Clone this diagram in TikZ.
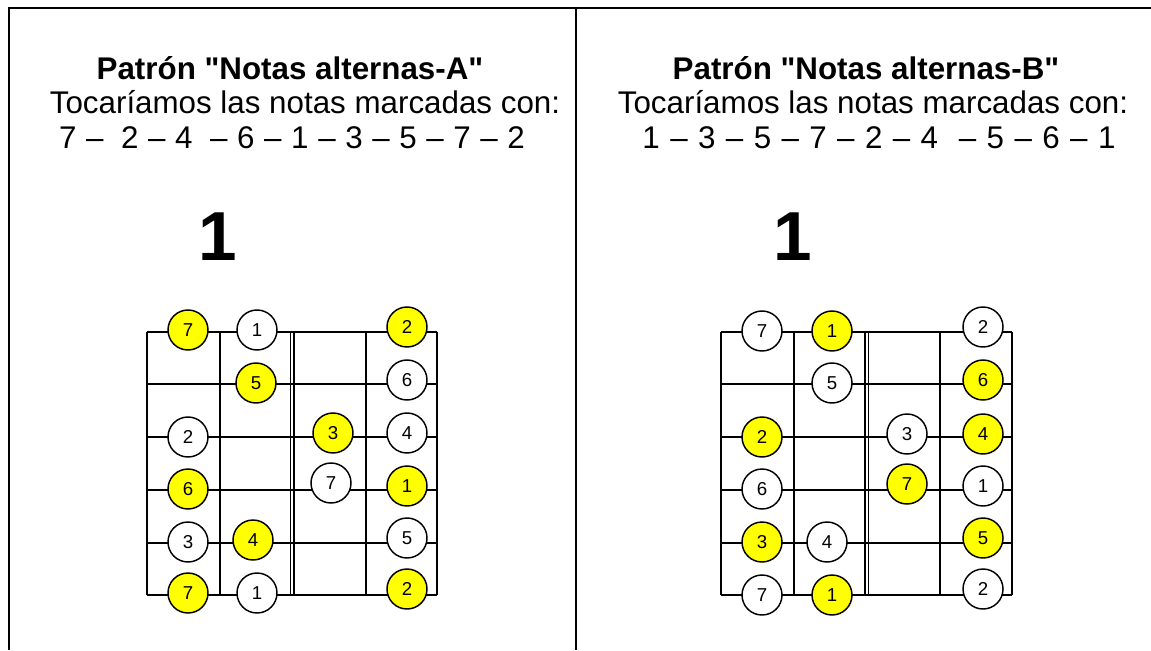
\documentclass[tikz,border=0pt]{standalone}
\usepackage{fontspec}
\setmainfont{Liberation Sans}[Ligatures=TeXOff]
\definecolor{notey}{RGB}{255,255,0}
\begin{document}
\begin{tikzpicture}[x=0.75pt,y=-0.75pt,
  frame/.style={line width=1.5pt},
  fretline/.style={line width=1.2pt},
  note/.style={circle,draw,line width=1.1pt,minimum size=30pt,inner sep=0pt,font=\fontsize{14}{16}\selectfont},
  yel/.style={note,fill=notey},
  wht/.style={note,fill=white},
  bodytext/.style={font=\fontsize{23.5}{28}\selectfont,anchor=base,inner sep=0pt},
  titletext/.style={bodytext,font=\fontsize{23.5}{28}\selectfont\bfseries},
  bignum/.style={font=\fontsize{52}{60}\selectfont\bfseries,inner sep=0pt}]
\useasboundingbox (0,0) rectangle (1151,650);
% frame
\draw[frame] (8.7,650) -- (8.7,7.7) -- (1151,7.7);
\draw[frame] (575.7,7.7) -- (575.7,650);
% texts left
\node[titletext] (tA) at (290,79) {Patrón "Notas alternas-A"};
\node[bodytext] (sA) at (305,113) {Tocaríamos las notas marcadas con:};
\node[bodytext] (nA) at (292,148) {\spaceskip=7.2pt\relax 7 –\hspace{6pt} 2 – 4\hspace{6pt} – 6 – 1 – 3 – 5 – 7 – 2};
\node[bignum] (bA) at (218,237) {1};
% texts right
\node[titletext] (tB) at (866,79) {Patrón "Notas alternas-B"};
\node[bodytext] (sB) at (873,113) {Tocaríamos las notas marcadas con:};
\node[bodytext] (nB) at (879,148) {\spaceskip=7.8pt\relax 1 – 3 – 5 – 7 – 2 – 4\hspace{7.8pt} – 5 – 6 – 1};
\node[bignum] (bB) at (793,237) {1};
% left fretboard
\foreach \x in {147,220,290.5,294,366,437} \draw[fretline] (\x,332) -- (\x,595);
\foreach \y in {332,384,437,490,543,595} \draw[fretline] (147,\y) -- (437,\y);
% right fretboard
\foreach \x in {721,794,865,868.5,940,1012} \draw[fretline] (\x,332) -- (\x,595);
\foreach \y in {332,384,437,490,543,595} \draw[fretline] (721,\y) -- (1012,\y);
% left notes
\node[yel] (a11) at (188,330) {7};
\node[wht] (a12) at (257,330) {1};
\node[yel] (a14) at (407,327) {2};
\node[yel] (a22) at (256,383) {5};
\node[wht] (a24) at (407,380) {6};
\node[wht] (a31) at (188,437) {2};
\node[yel] (a33) at (333,433) {3};
\node[wht] (a34) at (407,433) {4};
\node[yel] (a41) at (188,489) {6};
\node[wht] (a43) at (331,483) {7};
\node[yel] (a44) at (407,486) {1};
\node[wht] (a51) at (188,542) {3};
\node[yel] (a52) at (253,540) {4};
\node[wht] (a54) at (407,538) {5};
\node[yel] (a61) at (188,593) {7};
\node[wht] (a62) at (257,593) {1};
\node[yel] (a64) at (407,589) {2};
% right notes
\node[wht] (b11) at (762,331) {7};
\node[yel] (b12) at (832,331) {1};
\node[wht] (b14) at (983,327) {2};
\node[wht] (b22) at (832,383) {5};
\node[yel] (b24) at (983,380) {6};
\node[yel] (b31) at (762,437) {2};
\node[wht] (b33) at (907,434) {3};
\node[yel] (b34) at (983,434) {4};
\node[wht] (b41) at (762,489) {6};
\node[yel] (b43) at (907,484) {7};
\node[wht] (b44) at (983,486) {1};
\node[yel] (b51) at (762,542) {3};
\node[wht] (b52) at (827,542) {4};
\node[yel] (b54) at (983,538) {5};
\node[wht] (b61) at (762,595) {7};
\node[yel] (b62) at (832,595) {1};
\node[wht] (b64) at (983,589) {2};
\end{tikzpicture}
\end{document}
